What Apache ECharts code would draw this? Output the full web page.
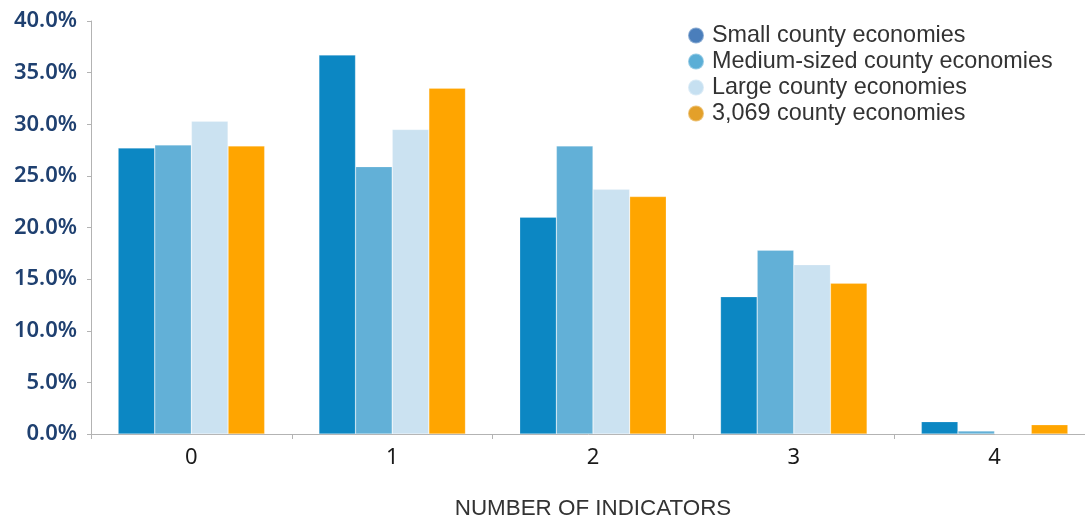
<!DOCTYPE html>
<html>
<head>
<meta charset="utf-8">
<style>
  html, body { margin: 0; padding: 0; background: #ffffff; }
  #chart { width: 1085px; height: 519px; }
</style>
<script src="https://cdn.jsdelivr.net/npm/echarts@6/dist/echarts.min.js"></script>
</head>
<body>
<div id="chart"></div>
<script>
// Number of indicators met, share of county economies (%)
const categories = ['0', '1', '2', '3', '4'];
const seriesNames = [
  'Small county economies',
  'Medium-sized county economies',
  'Large county economies',
  '3,069 county economies'
];
const smallCounties  = [27.7, 36.7, 21.0, 13.3, 1.2];
const mediumCounties = [28.0, 25.9, 27.9, 17.8, 0.3];
const largeCounties  = [30.3, 29.5, 23.7, 16.4, 0.0];
const allCounties    = [27.9, 33.5, 23.0, 14.6, 0.9];
const yTicks = [0, 5, 10, 15, 20, 25, 30, 35, 40];

const barColors    = ['#0c87c3', '#62b0d7', '#cbe2f1', '#ffa500'];
const legendColors = ['#4a7ebb', '#5baed6', '#c6e0f1', '#e3a02a'];
const seriesData = [smallCounties, mediumCounties, largeCounties, allCounties];

const chart = echarts.init(document.getElementById('chart'), null, { renderer: 'canvas' });

const sansText = "'Liberation Sans', Arial, Helvetica, sans-serif";

chart.setOption({
  animation: false,
  backgroundColor: '#ffffff',
  // the last category runs slightly past the right edge of the canvas
  grid: { left: 91, top: 21, width: 1004, height: 413, containLabel: false, outerBoundsMode: 'none' },
  legend: {
    orient: 'vertical',
    left: 682,
    top: 19,
    icon: 'circle',
    itemWidth: 22,
    itemHeight: 16,
    itemGap: 3,
    textStyle: { fontFamily: sansText, fontSize: 23.4, color: '#333333' },
    data: seriesNames.map((n, i) => ({ name: n, itemStyle: { color: legendColors[i] } }))
  },
  xAxis: {
    type: 'category',
    data: categories,
    name: 'NUMBER OF INDICATORS',
    nameLocation: 'middle',
    nameGap: 64,
    nameTextStyle: { fontFamily: sansText, fontSize: 22.4, color: '#333333' },
    axisLine: { lineStyle: { color: '#b3b3b3', width: 1 } },
    axisTick: { show: true, length: 5, lineStyle: { color: '#b3b3b3' } },
    axisLabel: { fontFamily: "'Noto Sans', sans-serif", fontSize: 22, color: '#1a1a1a', margin: 13 }
  },
  yAxis: {
    type: 'value',
    min: yTicks[0],
    max: yTicks[yTicks.length - 1],
    interval: 5,
    axisLine: { show: true, lineStyle: { color: '#b3b3b3', width: 1 } },
    axisTick: { show: true, length: 4, lineStyle: { color: '#b3b3b3' } },
    splitLine: { show: false },
    axisLabel: {
      fontFamily: "'Noto Sans', sans-serif",
      fontWeight: 600,
      fontSize: 22,
      color: '#1f4070',
      margin: 14,
      formatter: v => v.toFixed(1) + '%'
    }
  },
  series: seriesNames.map((name, i) => ({
    name: name,
    type: 'bar',
    data: seriesData[i],
    barGap: '0%',
    barCategoryGap: '27%',
    itemStyle: { color: barColors[i], borderColor: 'rgba(255,255,255,0.35)', borderWidth: 0.6 }
  }))
});
</script>
</body>
</html>
